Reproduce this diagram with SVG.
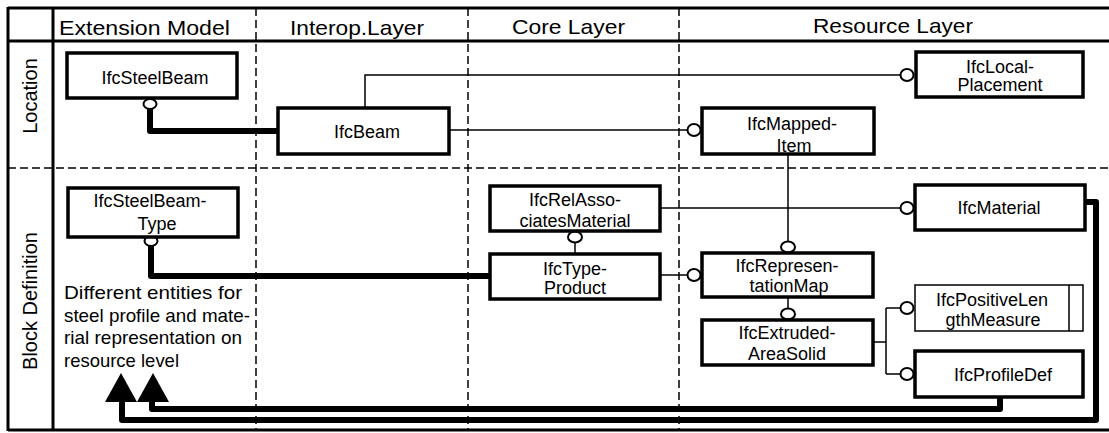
<svg xmlns="http://www.w3.org/2000/svg" width="1109" height="433" viewBox="0 0 1109 433">
<style>
.frame{stroke:#000;stroke-width:3;fill:none}
.dash{stroke:#000;stroke-width:1.5;fill:none;stroke-dasharray:8 4}
.hdr{font-family:"Liberation Sans",Arial,sans-serif;font-size:21px;fill:#000}
.lbl{font-family:"Liberation Sans",Arial,sans-serif;font-size:20px;fill:#000;text-anchor:middle}
.box{fill:#fff;stroke:#000;stroke-width:3.5}
.tbox{fill:#fff;stroke:#000;stroke-width:1.5}
.t{font-family:"Liberation Sans",Arial,sans-serif;font-size:18px;fill:#000;text-anchor:middle}
.note{font-family:"Liberation Sans",Arial,sans-serif;font-size:19px;fill:#000}
.thin{stroke:#000;stroke-width:1.5;fill:none}
.thick{stroke:#000;stroke-width:6;fill:none;stroke-linejoin:round}
.c{fill:#fff;stroke:#000;stroke-width:2}
</style>
<rect width="1109" height="433" fill="#fff"/>
<g id="frame">
<line class="frame" x1="8" y1="8" x2="1109" y2="8"/>
<line class="frame" x1="8" y1="41" x2="1109" y2="41"/>
<line class="frame" x1="8" y1="430" x2="1109" y2="430"/>
<line class="frame" x1="8" y1="7" x2="8" y2="431" stroke-width="2.5"/>
<line class="frame" x1="53" y1="7" x2="53" y2="431"/>
<line class="dash" x1="256" y1="8" x2="256" y2="430"/>
<line class="dash" x1="468" y1="8" x2="468" y2="430"/>
<line class="dash" x1="679" y1="8" x2="679" y2="430"/>
<line class="dash" x1="8" y1="168" x2="1109" y2="168" stroke-dasharray="10 5"/>
<text class="hdr" x="59" y="35" textLength="171" lengthAdjust="spacingAndGlyphs">Extension Model</text>
<text class="hdr" x="290" y="35" textLength="134" lengthAdjust="spacingAndGlyphs">Interop.Layer</text>
<text class="hdr" x="512" y="34" textLength="113" lengthAdjust="spacingAndGlyphs">Core Layer</text>
<text class="hdr" x="813" y="33" textLength="160" lengthAdjust="spacingAndGlyphs">Resource Layer</text>
<text class="lbl" transform="translate(37,96) rotate(-90)">Location</text>
<text class="lbl" transform="translate(37,301) rotate(-90)">Block Definition</text>
</g>
<g id="connectors">
<path class="thin" d="M449,130 H688"/>
<path class="thin" d="M365,108 V75 H901"/>
<path class="thin" d="M788,154 V242"/>
<path class="thin" d="M660,208 H901"/>
<path class="thin" d="M575,243 V254"/>
<path class="thin" d="M660,275 H687"/>
<path class="thin" d="M788,297 V309"/>
<path class="thin" d="M873,342 H886 M886,308 V374 M886,308 H901 M886,374 H901"/>
<path class="thick" d="M150,109 V131 H278"/>
<path class="thick" d="M151,246 V276 H490"/>
<path class="thick" d="M1000,397 V409 H152 V400"/>
<path class="thick" d="M1085,202 H1096 V420 H122 V400"/>
<polygon points="121,373 105,402 137,402" fill="#000"/>
<polygon points="153,373 137,402 169,402" fill="#000"/>
<ellipse class="c" cx="150" cy="104" rx="6.5" ry="5"/>
<ellipse class="c" cx="151" cy="241" rx="6.5" ry="5"/>
<ellipse class="c" cx="694" cy="130" rx="6.5" ry="6"/>
<ellipse class="c" cx="907" cy="75" rx="6.5" ry="6"/>
<ellipse class="c" cx="907" cy="208" rx="6.5" ry="6"/>
<ellipse class="c" cx="788" cy="247" rx="7" ry="5.5"/>
<ellipse class="c" cx="575" cy="237" rx="7" ry="5.5"/>
<ellipse class="c" cx="694" cy="275" rx="6.5" ry="6"/>
<ellipse class="c" cx="788" cy="314" rx="7" ry="5.5"/>
<ellipse class="c" cx="907" cy="308" rx="6.5" ry="6"/>
<ellipse class="c" cx="907" cy="374" rx="6.5" ry="6"/>
</g>
<g id="IfcSteelBeam"><rect class="box" x="67" y="53" width="170" height="45"/><text class="t" x="155" y="84">IfcSteelBeam</text></g>
<g id="IfcBeam"><rect class="box" x="278" y="108" width="171" height="46"/><text class="t" x="367" y="138">IfcBeam</text></g>
<g id="IfcMappedItem"><rect class="box" x="702" y="108" width="172" height="46"/><text class="t" x="792" y="130">IfcMapped-</text><text class="t" x="794" y="152">Item</text></g>
<g id="IfcLocalPlacement"><rect class="box" x="916" y="52" width="167" height="45"/><text class="t" x="1000" y="73">IfcLocal-</text><text class="t" x="1000" y="91">Placement</text></g>
<g id="IfcSteelBeamType"><rect class="box" x="68" y="188" width="170" height="49"/><text class="t" x="150" y="207">IfcSteelBeam-</text><text class="t" x="157" y="230">Type</text></g>
<g id="IfcRelAssociatesMaterial"><rect class="box" x="490" y="186" width="170" height="45"/><text class="t" x="575" y="206">IfcRelAsso-</text><text class="t" x="575" y="227">ciatesMaterial</text></g>
<g id="IfcTypeProduct"><rect class="box" x="490" y="254" width="170" height="45"/><text class="t" x="575" y="275">IfcType-</text><text class="t" x="575" y="294">Product</text></g>
<g id="IfcMaterial"><rect class="box" x="915" y="185" width="170" height="45"/><text class="t" x="999" y="214">IfcMaterial</text></g>
<g id="IfcRepresentationMap"><rect class="box" x="702" y="253" width="171" height="44"/><text class="t" x="787" y="272">IfcRepresen-</text><text class="t" x="789" y="292">tationMap</text></g>
<g id="IfcExtrudedAreaSolid"><rect class="box" x="702" y="320" width="171" height="45"/><text class="t" x="787" y="339">IfcExtruded-</text><text class="t" x="787" y="360">AreaSolid</text></g>
<g id="IfcPositiveLengthMeasure"><rect class="tbox" x="915" y="285" width="168" height="46"/><line class="thin" x1="1069" y1="285" x2="1069" y2="331"/><text class="t" x="992" y="306">IfcPositiveLen</text><text class="t" x="993" y="326">gthMeasure</text></g>
<g id="IfcProfileDef"><rect class="box" x="915" y="351" width="168" height="46"/><text class="t" x="1003" y="381">IfcProfileDef</text></g>
<g id="note"><text class="note" x="64" y="299" textLength="178" lengthAdjust="spacingAndGlyphs">Different entities for</text><text class="note" x="64" y="322" textLength="186" lengthAdjust="spacingAndGlyphs">steel profile and mate-</text><text class="note" x="64" y="344" textLength="178" lengthAdjust="spacingAndGlyphs">rial representation on</text><text class="note" x="64" y="367" textLength="115" lengthAdjust="spacingAndGlyphs">resource level</text></g>
</svg>
